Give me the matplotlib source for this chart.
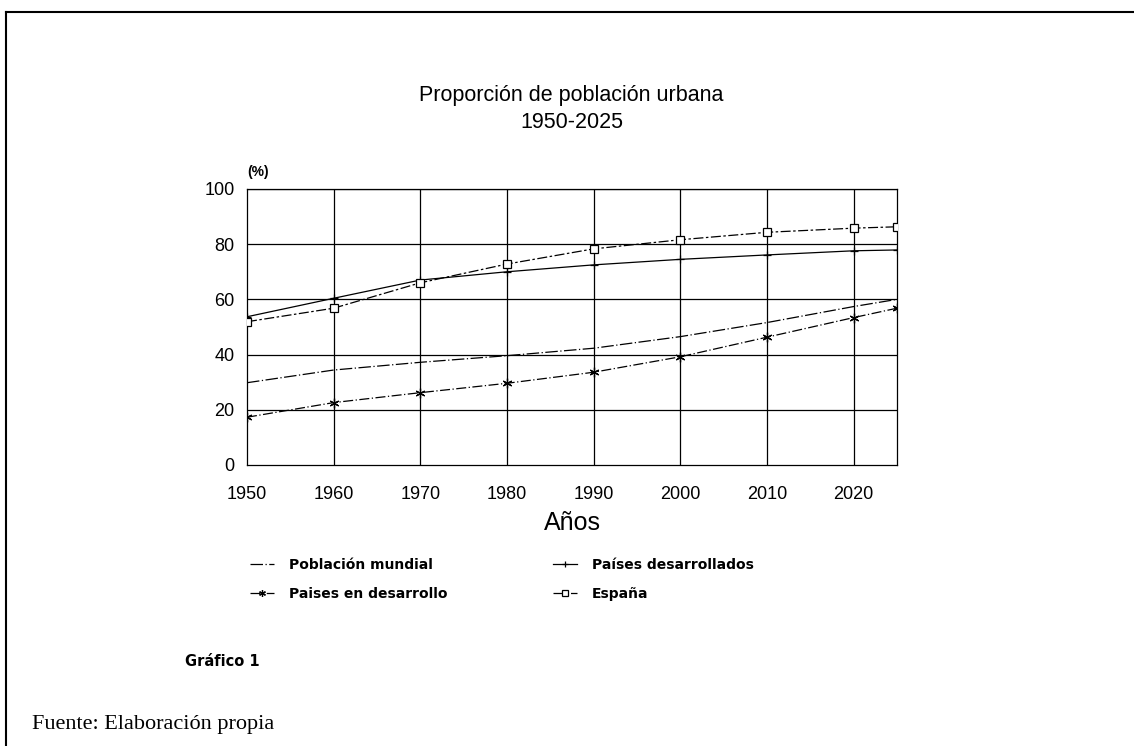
import numpy as np
import matplotlib
matplotlib.use("Agg")
import matplotlib.pyplot as plt
from matplotlib.lines import Line2D

# DATA
years = [1950, 1960, 1970, 1980, 1990, 2000, 2010, 2020, 2025]
mundial = [29.8, 34.4, 37.2, 39.6, 42.3, 46.5, 51.6, 57.4, 60.0]
desarrollados = [53.7, 60.4, 67.0, 70.0, 72.5, 74.5, 76.1, 77.6, 77.9]
en_desarrollo = [17.3, 22.6, 26.2, 29.6, 33.6, 39.2, 46.3, 53.4, 56.8]
espana = [51.9, 56.8, 66.0, 72.8, 78.3, 81.6, 84.3, 85.8, 86.3]

x_ticks = [1950, 1960, 1970, 1980, 1990, 2000, 2010, 2020]
y_ticks = [0, 20, 40, 60, 80, 100]

plt.rcParams['font.family'] = ['Liberation Sans', 'DejaVu Sans']

fig = plt.figure(figsize=(11.34, 7.46), dpi=100)
ax = fig.add_axes([0.2178, 0.3767, 0.5732, 0.3700])

# grid
for yv in y_ticks[1:]:
    ax.axhline(yv, color="black", lw=0.9, zorder=1)
for xv in x_ticks[1:]:
    ax.axvline(xv, color="black", lw=0.9, zorder=1)

l_mun, = ax.plot(years, mundial, color="black", lw=0.9, ls=(0, (10, 2, 1, 2)),
                 label="Población mundial", zorder=3)
l_des, = ax.plot(years, desarrollados, color="black", lw=0.9, marker="+",
                 ms=6, mew=0.9, label="Países desarrollados", zorder=3)
l_end, = ax.plot(years, en_desarrollo, color="black", lw=0.9, ls=(0, (8, 2, 1, 2)),
                 marker=(6, 2, 0), ms=7, mew=0.9,
                 label="Paises en desarrollo", zorder=3)
l_esp, = ax.plot(years, espana, color="black", lw=0.9, ls=(0, (8, 2, 2, 2)),
                 marker="s", ms=6, mfc="white", mew=0.9,
                 label="España", zorder=3)

ax.set_xlim(1950, 2025)
ax.set_ylim(0, 100)
ax.set_xticks(x_ticks)
ax.set_yticks(y_ticks)
ax.tick_params(length=0, labelsize=13, pad=9)
ax.tick_params(axis="x", pad=15)
for s in ax.spines.values():
    s.set_linewidth(0.9)
ax.set_xlabel("Años", fontsize=18, labelpad=6)

fig.text(0.504, 1 - 95 / 746, "Proporción de población urbana",
         ha="center", va="center", fontsize=15.5)
fig.text(0.504, 1 - 122 / 746, "1950-2025",
         ha="center", va="center", fontsize=15.5)
fig.text(247 / 1134, 1 - 172 / 746, "(%)", ha="left", va="center",
         fontsize=10, fontweight="bold")

leg_font = {'family': 'DejaVu Sans', 'weight': 'bold', 'size': 10}
leg1 = fig.legend(handles=[l_mun, l_end], loc="upper left",
                  bbox_to_anchor=(250 / 1134, 1 - 558 / 746),
                  frameon=False, borderpad=0, borderaxespad=0,
                  handlelength=1.7, handletextpad=1.1, labelspacing=1.05,
                  markerscale=0.7, prop=leg_font)
leg2 = fig.legend(handles=[l_des, l_esp], loc="upper left",
                  bbox_to_anchor=(553 / 1134, 1 - 558 / 746),
                  frameon=False, borderpad=0, borderaxespad=0,
                  handlelength=1.7, handletextpad=1.1, labelspacing=1.05,
                  markerscale=0.7, prop=leg_font)

fig.text(185 / 1134, 1 - 661 / 746, "Gráfico 1", ha="left", va="center",
         fontsize=10.5, fontweight="bold", family="DejaVu Sans")
fig.text(32 / 1134, 1 - 725 / 746, "Fuente: Elaboración propia",
         ha="left", va="center", fontsize=16, family="Liberation Serif")

# page frame
fig.add_artist(Line2D([6 / 1134, 1.0], [1 - 12 / 746, 1 - 12 / 746],
                      color="black", lw=1.5, transform=fig.transFigure))
fig.add_artist(Line2D([6 / 1134, 6 / 1134], [0, 1 - 12 / 746],
                      color="black", lw=1.5, transform=fig.transFigure))

fig.savefig("out.png", dpi=100)
